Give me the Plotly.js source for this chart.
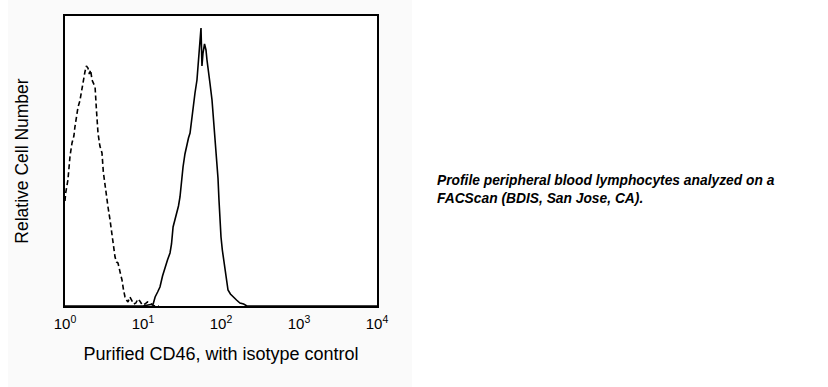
<!DOCTYPE html>
<html>
<head>
<meta charset="utf-8">
<script src="https://cdn.plot.ly/plotly-3.0.1.min.js"></script>
<style>html,body{margin:0;padding:0;background:#fff;}#chart{width:828px;height:387px;}</style>
</head>
<body>
<div id="chart"></div>
<script>
// Isotype control (dashed)
const isoX = [1.00, 1.02, 1.09, 1.16, 1.23, 1.30, 1.34, 1.40, 1.47, 1.55, 1.65, 1.72, 1.80, 1.88, 1.97, 2.05, 2.13, 2.22, 2.32, 2.43, 2.53, 2.65, 2.80, 2.98, 3.10, 3.26, 3.40, 3.56, 3.78, 4.00, 4.18, 4.38, 4.58, 4.78, 5.08, 5.38, 5.63, 5.88, 6.15, 6.42, 6.80, 7.20, 7.60, 8.10, 8.60, 9.10, 9.80, 10.6, 11.4, 12.3, 13.2, 14.2, 16.0];
const isoY = [105, 113, 126, 150, 163, 170, 179, 190, 199, 205, 219, 228, 234, 240, 238, 232, 236, 226, 222, 219, 196, 173, 160, 153, 134, 119, 110, 99, 86, 73, 60, 49, 44, 43, 34, 26, 16, 9, 6, 4, 9, 6, 2, 3, 7, 5, 1, 2, 4, 3, 1, 0, 0];

// Purified CD46 (solid)
const cdX = [1.00, 10.0, 13.5, 14.3, 15.4, 16.5, 17.8, 19.1, 20.6, 22.2, 23.2, 24.3, 25.8, 27.3, 28.5, 29.8, 31.2, 32.6, 34.5, 36.6, 38.3, 40.1, 41.9, 43.7, 46.4, 49.2, 50.7, 52.2, 53.8, 55.4, 57.0, 58.8, 61.5, 64.2, 66.1, 68.1, 72.4, 76.7, 80.2, 83.8, 86.3, 88.9, 91.5, 94.2, 97.0, 100, 104, 109, 116, 123, 132, 143, 158, 175, 195, 215, 10000];
const cdY = [0, 0, 2, 9, 14, 19, 30, 39, 46, 53, 62, 79, 86, 93, 100, 109, 126, 139, 152, 163, 168, 173, 186, 199, 213, 226, 240, 246, 262, 278, 240, 253, 262, 256, 246, 236, 222, 206, 186, 173, 160, 149, 128, 106, 80, 69, 56, 46, 30, 16, 12, 9, 6, 3, 2, 0, 0];

const tickVals = [1, 10, 100, 1000, 10000];
const tickText = ['10<sup>0</sup>', '10<sup>1</sup>', '10<sup>2</sup>', '10<sup>3</sup>', '10<sup>4</sup>'];

const traces = [
  {x: isoX, y: isoY, type: 'scatter', mode: 'lines', line: {color: '#000', width: 1.6, dash: '5px,3px'}, hoverinfo: 'skip'},
  {x: cdX, y: cdY, type: 'scatter', mode: 'lines', line: {color: '#000', width: 1.6}, hoverinfo: 'skip'}
];

const grey = '#fafafa';
const layout = {
  width: 828, height: 387,
  margin: {l: 65, r: 451, t: 16, b: 81},
  paper_bgcolor: '#ffffff',
  plot_bgcolor: '#ffffff',
  showlegend: false,
  font: {family: 'Liberation Sans, Arial, sans-serif', color: '#000'},
  xaxis: {
    type: 'log', range: [0, 4],
    tickvals: tickVals, ticktext: tickText,
    ticks: '', showgrid: false, zeroline: false,
    showline: true, mirror: true, linecolor: '#000', linewidth: 2,
    tickfont: {size: 15, color: '#000'},
    ticklabelstandoff: 3,
    title: {text: 'Purified CD46, with isotype control', font: {size: 18, color: '#000'}, standoff: 16},
    automargin: false
  },
  yaxis: {
    range: [0, 290], showticklabels: false, ticks: '', showgrid: false, zeroline: false,
    showline: true, mirror: true, linecolor: '#000', linewidth: 2,
    title: {text: 'Relative Cell Number', font: {size: 17.5, color: '#000'}, standoff: 30},
    automargin: false
  },
  shapes: [
    {type: 'rect', xref: 'paper', yref: 'paper', x0: -0.183, x1: 0, y0: -0.28, y1: 1.06, fillcolor: grey, line: {width: 0}, layer: 'below'},
    {type: 'rect', xref: 'paper', yref: 'paper', x0: 1, x1: 1.112, y0: -0.28, y1: 1.06, fillcolor: grey, line: {width: 0}, layer: 'below'},
    {type: 'rect', xref: 'paper', yref: 'paper', x0: 0, x1: 1, y0: 1, y1: 1.06, fillcolor: grey, line: {width: 0}, layer: 'below'},
    {type: 'rect', xref: 'paper', yref: 'paper', x0: 0, x1: 1, y0: -0.28, y1: 0, fillcolor: grey, line: {width: 0}, layer: 'below'}
  ],
  annotations: [
    {xref: 'paper', yref: 'paper', x: 1.186, y: 0.434, xanchor: 'left', yanchor: 'middle', showarrow: false,
     text: '<b><i>Profile peripheral blood lymphocytes analyzed on a</i></b>', font: {size: 13.8, color: '#000'}},
    {xref: 'paper', yref: 'paper', x: 1.186, y: 0.369, xanchor: 'left', yanchor: 'middle', showarrow: false,
     text: '<b><i>FACScan (BDIS, San Jose, CA).</i></b>', font: {size: 13.8, color: '#000'}}
  ]
};

Plotly.newPlot('chart', traces, layout, {displayModeBar: false, staticPlot: true});
</script>
</body>
</html>
